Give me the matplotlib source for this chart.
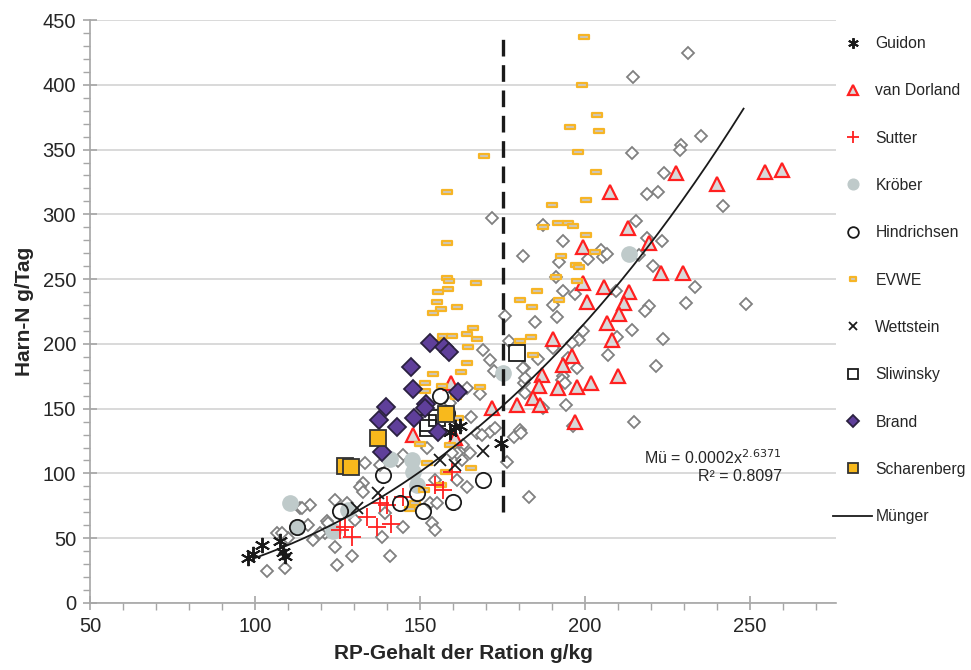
import numpy as np
import matplotlib
matplotlib.use("Agg")
import matplotlib.pyplot as plt
from matplotlib.path import Path
from matplotlib.ticker import MultipleLocator

plt.rcParams['font.family'] = ['Liberation Sans', 'DejaVu Sans']

# ---------------- data ----------------
guidon_x = [98, 99.5, 102, 107.5, 108.5, 109, 160.6, 162.1, 159, 174.5]
guidon_y = [35, 38, 45, 48, 39, 36, 136, 137, 132, 123.5]

dorland_x = [207.6, 227.6, 240, 254.5, 259.7, 213, 219.4, 199.4, 223, 229.7, 199.4, 205.8,
             213.3, 211.8, 200.6, 210.3, 206.7, 190.3, 208.2, 196.1, 193.3, 187, 186.1, 191.8,
             197.6, 201.8, 210, 184.2, 186.4, 197, 171.8, 179.4, 159.4, 147.9, 160.6]
dorland_y = [317.2, 331.9, 323.4, 332.7, 334.2, 289.4, 277.9, 274.8, 254.7, 254.7, 247, 243.9,
             240, 231.6, 232.3, 223, 216.1, 203.8, 203, 190.6, 183.7, 176, 167.5, 166,
             166.7, 169.8, 175.2, 158.2, 152.8, 139.7, 150.5, 152.8, 169.8, 129.7, 127.4]

sutter_x = [125.8, 127.3, 129.4, 133.9, 137, 141.2, 137.9, 140, 144.8, 154.5, 157, 159.7]
sutter_y = [56, 59, 51, 66, 59, 61, 77, 76, 82, 91, 87, 101]

kroeber_x = [110.6, 112.7, 123.6, 128.2, 140.9, 147.6, 147.9, 149.1, 175.2, 213.3]
kroeber_y = [77, 58.7, 55.6, 71.8, 111, 110, 101, 91, 177.5, 269.4]

hindrichsen_x = [112.7, 125.8, 138.8, 144, 149.1, 150.9, 160, 169, 156, 158.2]
hindrichsen_y = [59, 71, 99, 77, 85, 71, 78, 95, 160, 147]

evwe_x = [199.7, 199.1, 203.6, 195.5, 204.2, 197.9, 203.3, 190, 200.3, 187.3, 191.8, 194.8,
          196.4, 200.3, 192.7, 203, 197.3, 198.2, 191.2, 197.6, 185.5, 192.1, 183.9, 180.3,
          183.6, 180.3, 184.2, 169.4, 158.2, 158.2, 158.2, 158.8, 167, 158.5, 155.5, 155.2,
          156.4, 153.9, 161.2, 166.1, 157, 159.7, 164.2, 167.3, 164.5, 156.4, 164.2, 162.4,
          153.9, 151.5, 151.5, 168.2, 156.7, 160.9, 157.9, 161.5, 150, 159.1, 165.5, 157.9,
          152.1, 151.2, 148.5, 147, 156.4]
evwe_y = [436.8, 399.8, 376.6, 367.4, 364.3, 348.1, 332.6, 307.2, 311, 290.2, 293.3, 293.3,
          291, 284, 267.8, 270.9, 260.9, 259.3, 251.6, 248.5, 240.8, 233.9, 228.5, 233.9,
          205.3, 202.2, 191.4, 345, 317.2, 277.8, 250.8, 248.5, 247, 242.3, 240, 232.3,
          226.9, 223.8, 228.5, 212.2, 206.1, 206.1, 207.6, 203.8, 197.6, 201.4, 185.2, 178.3,
          176.7, 169.8, 163.6, 166.7, 167.5, 159, 147.4, 142.8, 122.7, 121.9, 104.2, 101.1,
          108.1, 87.2, 77.2, 72.5, 91.1]

wettstein_x = [130.9, 137.3, 156.1, 160.6, 169.1]
wettstein_y = [73, 85, 110, 106.5, 117]

sliwinsky_x = [152.4, 155.2, 152.4, 179.4]
sliwinsky_y = [139, 143, 135, 193]

brand_x = [153, 157.3, 158.8, 147.3, 147.9, 161.5, 139.7, 151.8, 151.5, 137.6, 143, 148.2, 155.5, 138.5]
brand_y = [200.7, 197.6, 193.7, 182, 165, 163, 151, 153.6, 150.5, 141, 136, 143, 132, 116.5]

scharenberg_x = [137.3, 127.3, 129.1, 158]
scharenberg_y = [127, 106, 105, 146]

muenger_x = [231.2, 214.5, 214.2, 229.1, 228.8, 235.2, 223.9, 218.8, 222.1, 241.8, 215.5, 187.3,
             218.8, 223.3, 193.3, 233.3, 230.6, 248.8, 181.2, 192.1, 200.9, 204.8, 205.5, 206.7,
             216.4, 220.6, 219.4, 218.2, 191.2, 193.3, 197, 209.4, 190.3, 191.5, 184.8, 214.2,
             209.7, 223.6, 199.4, 198.2, 196.1, 190.3, 207, 185.8, 181.5, 194.8, 197.6, 221.5,
             193.3, 193, 193.9, 181.5, 181.8, 187.3, 194.2, 180.3, 214.8, 196.4,
             175.8, 169.1, 171.2, 172.4, 168.2, 177, 181.8, 181.2, 164.2, 159.1, 165.5, 167.3,
             171.2, 168.8, 172.7, 178.5, 180.6, 163, 162.4, 162.7, 161.2, 159.7, 165.2, 152.1,
             144.8, 143.3, 176.4, 161.2, 164.2, 154.5, 153, 183, 171.8,
             132.7, 131.8, 132.7, 124.2, 127.9, 116.7, 113.6, 116.1, 121.8, 123.6, 121.2, 130.3,
             138.5, 153.6, 154.5, 144.8, 155.2, 103.6, 109.1, 106.7, 110, 114.2, 117.6, 119.7,
             122.1, 124.2, 124.8, 129.4, 133.3, 140.9, 139.4, 137.9, 108.2]
muenger_y = [424.5, 406, 347.3, 353.5, 349.6, 360.4, 331.9, 315.7, 317.2, 306.4, 294.8, 291.7,
             281.7, 279.4, 279.4, 243.9, 231.5, 230.8, 267.8, 263.2, 265.5, 272.4, 267, 269.4,
             268.6, 260.1, 229.2, 225.4, 251.6, 240.8, 238.5, 240.8, 230, 220.7, 216.9, 210.7,
             205.3, 203.8, 209.9, 203, 200.7, 196.8, 191.4, 188.3, 181.4, 189.1, 181.4, 182.9,
             175.2, 172.1, 169.8, 169.8, 162.1, 150.5, 152.8, 133.5, 139.7, 136.6,
             221.5, 195.3, 187.5, 179.1, 161.3, 202.2, 173.7, 181.4, 165.9, 154.4, 143.6, 131.2,
             132, 129.7, 135.1, 128.1, 131.2, 121.9, 115.8, 110.4, 115.8, 115.8, 115.8, 119.6,
             114.2, 109.6, 108.8, 94.9, 89.5, 94.9, 77.2, 81.8, 297.1,
             92.6, 89.5, 85.7, 79.5, 77.2, 75.6, 73.3, 60.2, 63.3, 56.3, 54, 64.1,
             50.9, 61.7, 56.3, 58.7, 77.2, 24.7, 27, 54, 50.2, 73.3, 48.6, 54,
             61.7, 43.2, 29.3, 36.3, 108.1, 36.3, 69.5, 106.5, 54]

# Münger power trend line  y = a * x^b
trend_a = 0.000185
trend_b = 2.6371
trend_range = [100, 248]

# threshold line
threshold_x = 175
threshold_y = [70, 440]

# ---------------- figure ----------------
fig = plt.figure(figsize=(9.71, 6.70), dpi=100)
ax = fig.add_axes([90/971, 67/670, (836-90)/971, (603-20)/670])

ax.set_xlim(50, 276)
ax.set_ylim(0, 450)
ax.xaxis.set_major_locator(MultipleLocator(50))
ax.xaxis.set_minor_locator(MultipleLocator(10))
ax.yaxis.set_major_locator(MultipleLocator(50))
ax.yaxis.set_minor_locator(MultipleLocator(10))

ax.grid(axis='y', which='major', color='#d9d9d9', lw=1.4, zorder=0)
ax.set_axisbelow(True)
for s in ['top', 'right']:
    ax.spines[s].set_visible(False)
for s in ['left', 'bottom']:
    ax.spines[s].set_color('#a6a6a6')
    ax.spines[s].set_linewidth(1.2)

ax.tick_params(axis='both', which='both', colors='#a6a6a6', labelcolor='#262626', labelsize=14.5)
ax.tick_params(axis='x', which='major', direction='inout', length=10, width=1.2, pad=5)
ax.tick_params(axis='x', which='minor', direction='out', length=5, width=1.0)
ax.tick_params(axis='y', which='major', direction='inout', length=10, width=1.2, pad=5)
ax.tick_params(axis='y', which='minor', direction='out', length=5, width=1.0)

ax.set_xlabel('RP-Gehalt der Ration g/kg', fontsize=15, fontweight='bold', color='#262626', labelpad=6)
ax.set_ylabel('Harn-N g/Tag', fontsize=15, fontweight='bold', color='#262626', labelpad=6)

# Münger scatter (no legend entry)
ax.plot(muenger_x, muenger_y, ls='none', marker='D', ms=6.5, mfc='white', mec='#808080', mew=1.3, zorder=2)

rect = Path([(-1, -0.5), (1, -0.5), (1, 0.5), (-1, 0.5), (-1, -0.5)],
            [Path.MOVETO, Path.LINETO, Path.LINETO, Path.LINETO, Path.CLOSEPOLY])

h = []
h.append(ax.plot(guidon_x, guidon_y, ls='none', marker=(6, 2, 0), ms=11, mec='#1a1a1a', mew=1.4, zorder=4, label='Guidon')[0])
h.append(ax.plot(dorland_x, dorland_y, ls='none', marker='^', ms=10.5, mfc='#d9d9d9', mec='#ff2020', mew=1.6, zorder=3, label='van Dorland')[0])
h.append(ax.plot(sutter_x, sutter_y, ls='none', marker='+', ms=13, mec='#ff2020', mew=1.3, zorder=4, label='Sutter')[0])
h.append(ax.plot(kroeber_x, kroeber_y, ls='none', marker='o', ms=11, mfc='#bfcaca', mec='#bfcaca', mew=1, zorder=3, label='Kröber')[0])
h.append(ax.plot(hindrichsen_x, hindrichsen_y, ls='none', marker='o', ms=11, mfc='none', mec='#1a1a1a', mew=1.3, zorder=4, label='Hindrichsen')[0])
h.append(ax.plot(evwe_x, evwe_y, ls='none', marker=rect, ms=7, mfc='#c8c8c8', mec='#f6b526', mew=1.6, zorder=3, label='EVWE')[0])
h.append(ax.plot(wettstein_x, wettstein_y, ls='none', marker='x', ms=9, mec='#1a1a1a', mew=1.3, zorder=4, label='Wettstein')[0])
h.append(ax.plot(sliwinsky_x, sliwinsky_y, ls='none', marker='s', ms=11, mfc='none', mec='#1a1a1a', mew=1.3, zorder=4, label='Sliwinsky')[0])
h.append(ax.plot(brand_x, brand_y, ls='none', marker='D', ms=9, mfc='#5f3f9a', mec='#2b2140', mew=1.3, zorder=4, label='Brand')[0])
h.append(ax.plot(scharenberg_x, scharenberg_y, ls='none', marker='s', ms=11, mfc='#f8b91c', mec='#333333', mew=1.3, zorder=4, label='Scharenberg')[0])

# trend line
tx = np.linspace(trend_range[0], trend_range[1], 200)
ty = trend_a * tx ** trend_b
h.append(ax.plot(tx, ty, color='#1a1a1a', lw=1.3, zorder=5, label='Münger')[0])

# threshold line
ax.plot([threshold_x, threshold_x], threshold_y, color='#1a1a1a', lw=2.4, dashes=(5, 2.6), zorder=5)

ax.text(259.5, 112, 'Mü = 0.0002x$^{2.6371}$', ha='right', va='center', fontsize=11.5, color='#262626')
ax.text(259.5, 98, 'R² = 0.8097', ha='right', va='center', fontsize=11.5, color='#262626')

leg = fig.legend(handles=h, loc='upper left', bbox_to_anchor=(833/971, 1 - 36/670),
                 frameon=False, fontsize=11.3, labelspacing=2.06, handlelength=2.5,
                 handletextpad=0.2, borderpad=0, borderaxespad=0, markerscale=0.7)
for t in leg.get_texts():
    t.set_color('#262626')

fig.savefig('out.png', dpi=100)
